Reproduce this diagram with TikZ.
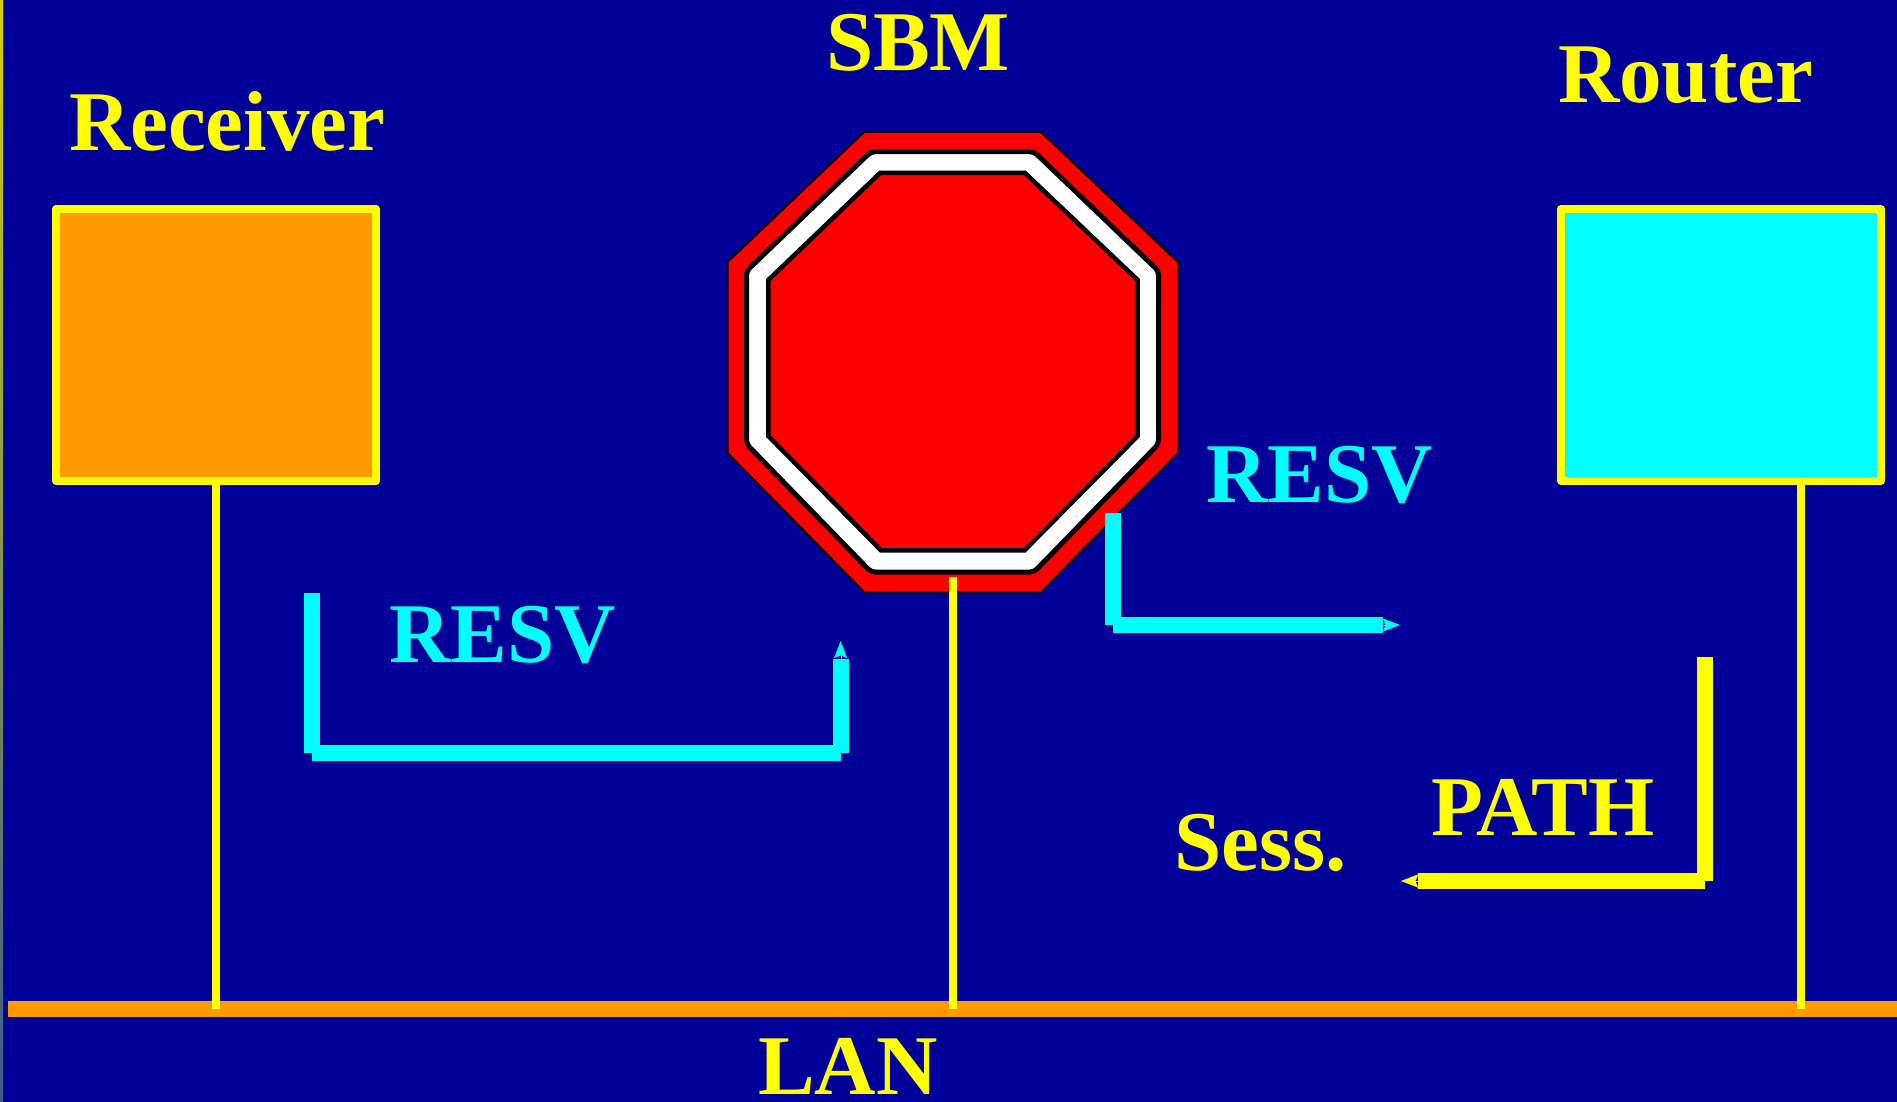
\documentclass[tikz,border=0pt]{standalone}
\usepackage{fontspec}
\setmainfont{Liberation Serif}
\usetikzlibrary{arrows.meta}
\definecolor{bgblue}{RGB}{0,0,153}
\definecolor{lanorange}{RGB}{255,153,0}
\definecolor{stripa}{RGB}{210,210,10}
\definecolor{stripb}{RGB}{58,90,140}
\definecolor{acyan}{RGB}{0,255,255}
\definecolor{ayellow}{RGB}{255,255,0}
\definecolor{ared}{RGB}{255,0,0}
\tikzset{
  lbl/.style={anchor=base west,inner sep=0pt,outer sep=0pt,font=\fontsize{85}{85}\selectfont\bfseries},
  ylbl/.style={lbl,text=ayellow},
  clbl/.style={lbl,text=acyan},
  hostbox/.style={rectangle,draw=ayellow,line width=8pt,line join=round,inner sep=0pt,outer sep=0pt,minimum width=320pt,minimum height=272pt},
  drop/.style={draw=ayellow,line width=8pt},
  cflow/.style={draw=acyan,line width=16pt},
  yflow/.style={draw=ayellow,line width=16pt},
  chead/.style={draw=acyan,line width=0.2pt,-{Stealth[length=17pt,width=13pt,inset=2.5pt,fill=acyan]}},
  yhead/.style={draw=ayellow,line width=0.2pt,-{Stealth[length=17pt,width=13pt,inset=2.5pt,fill=ayellow]}},
}
\begin{document}
\begin{tikzpicture}[x=1pt,y=-1pt]
\useasboundingbox (0,0) rectangle (1897,1102);
\fill[bgblue] (0,0) rectangle (1897,1102);
\shade[top color=stripa,bottom color=stripb] (0,0) rectangle (3,1102);

% LAN bar
\node[rectangle,fill=lanorange,inner sep=0pt,outer sep=0pt,minimum width=1889pt,minimum height=16pt] (lan) at (952.5,1009) {};

% hosts
\node[hostbox,fill=lanorange] (recv) at (216,345) {};
\node[hostbox,fill=acyan] (router) at (1721,345) {};

% stop-sign octagon
\draw[fill=ared,draw=black,line width=2pt]
  (864,132) -- (1041,132) -- (1178,262) -- (1178,453) -- (1041,592) -- (864,592) -- (727.5,453) -- (727.5,262) -- cycle;
\draw[fill=white,draw=black,line width=5pt,rounded corners=4pt]
  (871,151.7) -- (1034,151.7) -- (1158.5,271) -- (1158.5,444) -- (1034,572) -- (871,572) -- (746.5,444) -- (746.5,271) -- cycle;
\draw[fill=ared,draw=black,line width=4.5pt]
  (880,173) -- (1025,173) -- (1137.7,280) -- (1137.7,436) -- (1024.5,550.4) -- (881,550.4) -- (768.3,436) -- (768.3,280) -- cycle;

% anchor coordinates
\coordinate (sbmtop) at (952.5,577);
\coordinate (ra) at (312,593);
\coordinate (rb) at (312,753);
\coordinate (rc) at (840.6,753);
\coordinate (rd) at (840.6,659);
\coordinate (re) at (840.6,641);
\coordinate (sa) at (1112.5,512.5);
\coordinate (sb) at (1112.5,625);
\coordinate (sc) at (1382.7,625);
\coordinate (sd) at (1400,625);
\coordinate (pa) at (1705,657);
\coordinate (pb) at (1705,881);
\coordinate (pc) at (1418,881);
\coordinate (pd) at (1401,881);

% drops to the LAN
\draw[drop] (recv.south) -- (recv.south |- lan.center);
\draw[drop] (sbmtop) -- (sbmtop |- lan.center);
\draw[drop] (router.south) ++(80,0) coordinate (routerdrop) -- (routerdrop |- lan.center);

% flows
\draw[cflow] (ra) -- (rb);
\draw[cflow] (rb) -- (rc);
\draw[cflow] (rc) -- (rd);
\draw[chead] (rd) -- (re);

\draw[cflow] (sa) -- (sb);
\draw[cflow] (sb) -- (sc);
\draw[chead] (sc) -- (sd);

\draw[yflow] (pa) -- (pb);
\draw[yflow] (pb) -- (pc);
\draw[yhead] (pc) -- (pd);

% labels
\node[ylbl] (lrecv) at (69,150.7) {Receiver};
\node[ylbl] (lsbm) at (826,70.3) {SBM};
\node[ylbl] (lrouter) at (1558,102.7) {Router};
\node[clbl] (lresvl) at (389,662.3) {RESV};
\node[clbl] (lresvr) at (1206,502) {RESV};
\node[ylbl] (lpath) at (1431,835) {PATH};
\node[ylbl] (lsess) at (1174,870.7) {Sess.};
\node[ylbl] (llan) at (758,1094) {LAN};
\end{tikzpicture}
\end{document}
